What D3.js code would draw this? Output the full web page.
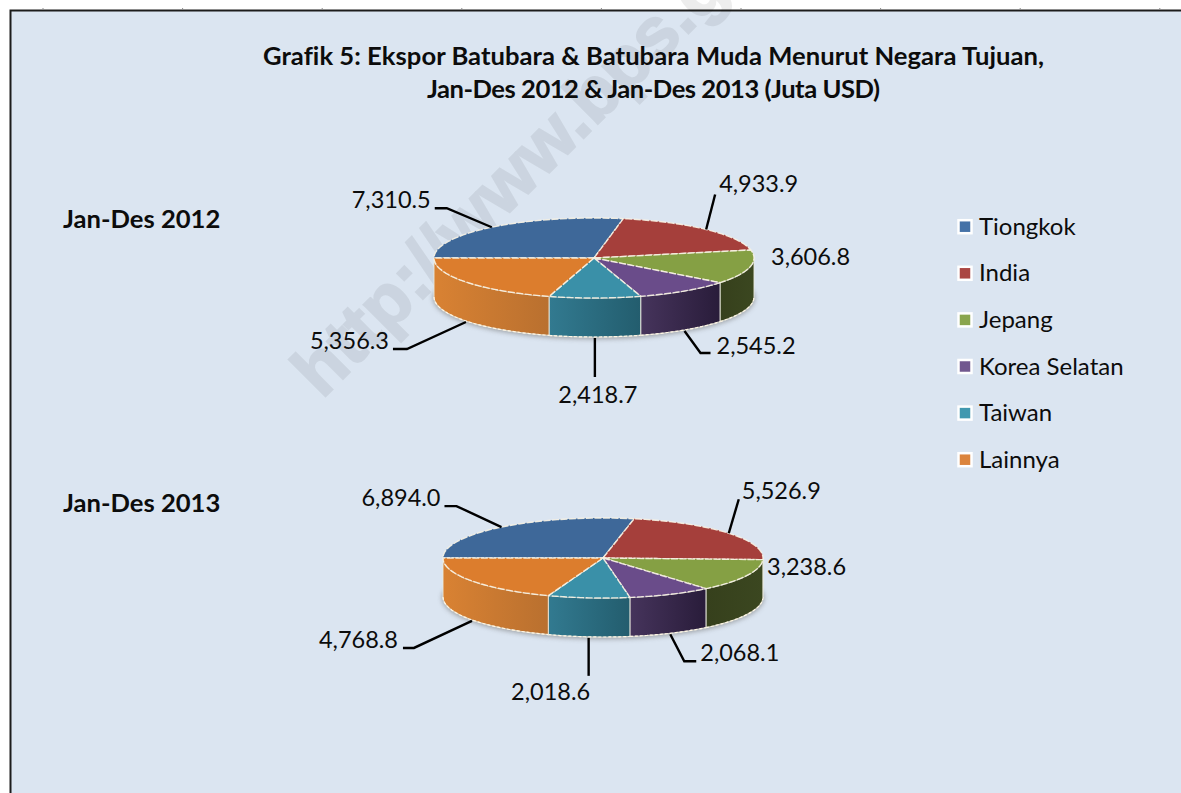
<!DOCTYPE html>
<html>
<head>
<meta charset="utf-8">
<script src="https://cdn.jsdelivr.net/npm/d3@7"></script>
<style>
  html, body { margin : 0; padding : 0; background : #fff; }
  svg { display : block; }
  text { font-family : Lato, Carlito, sans-serif; fill : #0c0c0c; font-variant-ligatures : none; }
</style>
</head>
<body>
<script>
"use strict"

/* global d3 */

// chart data
const countries = ["Tiongkok", "India", "Jepang", "Korea Selatan", "Taiwan", "Lainnya"]
const values2012 = [7310.5, 4933.9, 3606.8, 2545.2, 2418.7, 5356.3]
const values2013 = [6894.0, 5526.9, 3238.6, 2068.1, 2018.6, 4768.8]
const titleLines = [
  "Grafik 5: Ekspor Batubara & Batubara Muda Menurut Negara Tujuan,",
  "Jan-Des 2012 & Jan-Des 2013 (Juta USD)",
]
const titleWidths = [781, 453]

// colours per country: legend, top face, side face left and right
const legendColors = ["#4572a7", "#aa4643", "#89a54e", "#71588f", "#4198af", "#db843d"]
const topColors    = ["#3e6899", "#a53f3b", "#85a044", "#6a4c8a", "#3a90a8", "#dc7d2d"]
const sideLeft     = ["#2b4a70", "#7a2e2b", "#36401c", "#46345c", "#327a90", "#d98233"]
const sideRight    = ["#2b4a70", "#7a2e2b", "#3b4720", "#291c3a", "#235d6e", "#b9702f"]

// SVG area dimensions
const area = [1181, 793]
const depth = 39
const tau = Math.PI * 2

// leader elbow and end, relative to the slice anchor; label offset from the end
const pies = [
  {
    name : "Jan-Des 2012", nameY : 228, values : values2012, cx : 594, cy : 258, rx : 160, ry : 40,
    leaders : [
      { elbow : [-45, -19], end : [-57, -19], label : [-4, 0, "end"] },
      { elbow : [9, -35], end : [9, -35], label : [4, -2, "start"] },
      { fixed : [771, 265] },
      { elbow : [16, 22], end : [26, 22], label : [6, 1, "start"] },
      { elbow : [0, 39], end : [0, 39], label : [3, 26, "middle"] },
      { elbow : [-59, 27], end : [-73, 27], label : [-4, 0, "end"] },
    ],
  },
  {
    name : "Jan-Des 2013", nameY : 512, values : values2013, cx : 603, cy : 558, rx : 160, ry : 40,
    leaders : [
      { elbow : [-45, -21], end : [-57, -21], label : [-4, 0, "end"] },
      { elbow : [10, -34], end : [10, -34], label : [3, 0, "start"] },
      { fixed : [767, 575] },
      { elbow : [14, 27], end : [26, 27], label : [4, 0, "start"] },
      { elbow : [0, 38], end : [0, 38], label : [-38, 24, "middle"] },
      { elbow : [-58, 27], end : [-69, 27], label : [-5, 0, "end"] },
    ],
  },
]

const fmt = d3.format(",.1f")
const translate = (x, y) => `translate(${x} ${y})`

const svg = d3.select("body").append("svg")
  .attr("width", area[0])
  .attr("height", area[1])

const defs = svg.append("defs")
defs.append("filter").attr("id", "blur").attr("x", "-10%").attr("y", "-30%").attr("width", "120%").attr("height", "160%")
  .append("feGaussianBlur").attr("stdDeviation", 2.5)

// panel
svg.append("rect")
  .attr("x", 10.5).attr("y", 10.5).attr("width", area[0]).attr("height", area[1])
  .attr("fill", "#dbe5f1").attr("stroke", "#1c1c1c").attr("stroke-width", 2)

// small sheet ticks above the panel
svg.append("g").selectAll("line")
  .data(d3.range(9))
  .join("line")
  .attr("x1", i => 43 + i * 139.6).attr("x2", i => 43 + i * 139.6)
  .attr("y1", 8).attr("y2", 10)
  .attr("stroke", "#8a8a8a")

// watermark goes under everything else
svg.append("text")
  .attr("transform", translate(322, 400) + " rotate(-45)")
  .attr("font-size", 72)
  .attr("font-weight", 700)
  .style("font-family", "'Liberation Sans', sans-serif")
  .style("fill", "#000")
  .style("stroke", "#000")
  .style("stroke-width", 2)
  .attr("opacity", 0.065)
  .text("http://www.bps.go.id")

// title
svg.append("g").selectAll("text")
  .data(titleLines)
  .join("text")
  .attr("x", 653.5)
  .attr("y", (d, i) => 64.5 + i * 33.5)
  .attr("text-anchor", "middle")
  .attr("font-size", 25.6)
  .attr("font-weight", 700)
  .attr("textLength", (d, i) => titleWidths[i])
  .text(d => d)

const drawPie = (spec, index) => {
  const { values, cx, cy, rx, ry } = spec
  const g = svg.append("g").attr("class", "pie")

  // clockwise from the left, so the first slice starts at 9 o'clock
  const arcs = d3.pie().sort(null).startAngle(tau * 0.75).endAngle(tau * 1.75)(values)
  const px = a => rx * Math.sin(a)
  const py = a => -ry * Math.cos(a)
  const samples = (a0, a1) => d3.range(0, 41).map(i => a0 + (a1 - a0) * i / 40)
  const line = d3.line()

  // shadow under the pie
  g.append("ellipse")
    .attr("cx", cx).attr("cy", cy + depth + 1).attr("rx", rx + 1).attr("ry", ry + 1)
    .attr("fill", "#6f6f6f").attr("opacity", 0.6).attr("filter", "url(#blur)")

  const body = g.append("g").attr("transform", translate(cx, cy))

  // side faces only show on the front half
  arcs.forEach((d, i) => {
    const lo = d.startAngle % tau
    const hi = lo + (d.endAngle - d.startAngle)
    const from = Math.max(lo, tau * 0.25)
    const to = Math.min(hi, tau * 0.75)
    if (from >= to) return

    const gradId = `side-${index}-${i}`
    const grad = defs.append("linearGradient").attr("id", gradId)
    grad.append("stop").attr("offset", 0).attr("stop-color", sideLeft[i])
    grad.append("stop").attr("offset", 1).attr("stop-color", sideRight[i])

    const pts = samples(from, to)
    const top = pts.map(a => [px(a), py(a)])
    const bottom = pts.slice().reverse().map(a => [px(a), py(a) + depth])
    body.append("path")
      .attr("d", line(top.concat(bottom)) + "Z")
      .attr("fill", `url(#${gradId})`)
      .attr("stroke", "#e9eadf")
      .attr("stroke-opacity", 0.75)
      .attr("stroke-width", 1.2)

    // dashed rim along the bottom
    body.append("path")
      .attr("d", line(bottom))
      .attr("fill", "none")
      .attr("stroke", "#fff6e4")
      .attr("stroke-dasharray", "3 2")
      .attr("stroke-width", 1.2)
  })

  // top faces
  arcs.forEach((d, i) => {
    const pts = samples(d.startAngle, d.endAngle).map(a => [px(a), py(a)])
    body.append("path")
      .attr("d", line([[0, 0]].concat(pts)) + "Z")
      .attr("fill", topColors[i])
      .attr("stroke", "#f8f3e4")
      .attr("stroke-opacity", 0.9)
      .attr("stroke-width", 1.4)
      .attr("stroke-dasharray", "7 1.5")
      .attr("stroke-linejoin", "round")
  })

  return { arcs, px, py }
}

const drawn = pies.map(drawPie)

// leaders and value labels
pies.forEach((spec, index) => {
  const { cx, cy, values, leaders } = spec
  const { arcs, px, py } = drawn[index]
  const g = svg.append("g").attr("class", "labels")

  arcs.forEach((d, i) => {
    const conf = leaders[i]
    if (conf.fixed) {
      g.append("text").attr("x", conf.fixed[0]).attr("y", conf.fixed[1])
        .attr("font-size", 23.5).text(fmt(values[i]))
      return
    }
    const mid = ((d.startAngle + d.endAngle) / 2) % tau
    const front = mid > tau * 0.25 && mid < tau * 0.75
    const ax = cx + px(mid)
    const ay = cy + py(mid) + (front ? depth + 1 : 0)
    const elbow = [ax + conf.elbow[0], ay + conf.elbow[1]]
    const end = [ax + conf.end[0], ay + conf.end[1]]
    g.append("path")
      .attr("d", d3.line()([[ax, ay], elbow, end]))
      .attr("fill", "none")
      .attr("stroke", "#000")
      .attr("stroke-width", 2.4)
    g.append("text")
      .attr("x", end[0] + conf.label[0])
      .attr("y", end[1] + conf.label[1])
      .attr("text-anchor", conf.label[2])
      .attr("font-size", 23.5)
      .text(fmt(values[i]))
  })

  g.append("text")
    .attr("x", 63).attr("y", spec.nameY)
    .attr("font-size", 25.6).attr("font-weight", 700)
    .text(spec.name)
})

// legend
const legend = svg.append("g").attr("class", "legend")
  .selectAll("g")
  .data(countries)
  .join("g")
  .attr("transform", (d, i) => translate(957, 226.7 + i * 46.6))

legend.append("rect")
  .attr("x", 1.5).attr("y", -6.5).attr("width", 13).attr("height", 13)
  .attr("fill", (d, i) => legendColors[i])
  .attr("stroke", "#fff").attr("stroke-width", 2.5)

legend.append("text")
  .attr("x", 22).attr("y", 8)
  .attr("font-size", 24)
  .text(d => d)
</script>
</body>
</html>
